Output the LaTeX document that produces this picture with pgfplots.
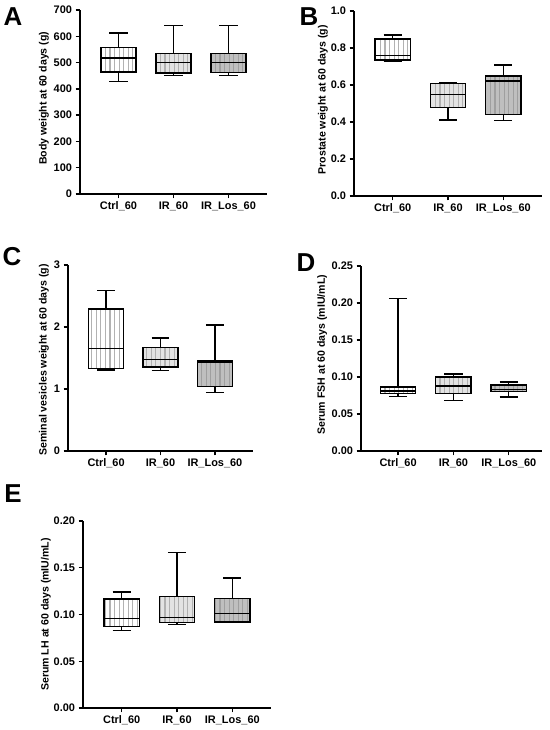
\documentclass[border=0pt]{standalone}
\usepackage{fontspec}
\setmainfont{Liberation Sans}
\usepackage{pgfplots}
\pgfplotsset{compat=1.18}
\usetikzlibrary{patterns}

% vertical hatching, 4.6pt apart
\pgfdeclarepatternformonly{gplines}{\pgfqpoint{-1pt}{-1pt}}{\pgfqpoint{1pt}{5.6pt}}{\pgfqpoint{4.6pt}{4.6pt}}{%
  \pgfsetlinewidth{1.15pt}
  \pgfpathmoveto{\pgfqpoint{0pt}{0pt}}
  \pgfpathlineto{\pgfqpoint{0pt}{4.7pt}}
  \pgfusepath{stroke}}

\pgfplotsset{
  gp/.style={
    scale only axis, anchor=south west,
    xmin=0.3, xmax=3.7, xtick={1,2,3},
    xticklabels={Ctrl\_60, IR\_60, IR\_Los\_60},
    axis x line*=bottom, axis y line*=left,
    axis line style={line width=1.4pt},
    tick align=outside, major tick length=4.5pt,
    tick style={black, line width=1.4pt},
    /pgf/number format/assume math mode=true,
    tick label style={font=\fontsize{11}{12}\selectfont\bfseries},
    label style={font=\fontsize{10.6}{12}\selectfont\bfseries},
    unbounded coords=jump,
  },
  % box outline with fill and hatching
  bx/.style 2 args={draw=black, line width=1.4pt, fill=#1,
    postaction={pattern=gplines, pattern color=#2}, mark=none},
  ctrl/.style={bx={white}{gray!60}},
  ir/.style={bx={gray!22}{gray!62}},
  los/.style={bx={gray!50}{gray!75}},
  % whiskers, caps and median line
  wh/.style={black, line width=1.4pt, mark=none},
}

\begin{document}
\begin{tikzpicture}
\path (0,0) rectangle (550bp,730bp);

% --- A: body weight ---
\begin{axis}[gp, at={(80bp,536bp)}, width=187bp, height=184bp,
  ymin=0, ymax=700, ytick={0,100,200,300,400,500,600,700},
  ylabel={Body weight at 60 days (g)},
  ylabel style={at={(axis description cs:-0.193,0.52)}, anchor=center}]
\addplot[ctrl] coordinates {(0.68,464) (1.32,464) (1.32,557) (0.68,557)} -- cycle;
\addplot[ir] coordinates {(1.68,461) (2.32,461) (2.32,534) (1.68,534)} -- cycle;
\addplot[los] coordinates {(2.68,462) (3.32,462) (3.32,535) (2.68,535)} -- cycle;
\addplot[wh] coordinates {(1,557) (1,613) (1,nan) (0.835,613) (1.165,613) (1,nan) (1,464) (1,428) (1,nan) (0.835,428) (1.165,428) (1,nan) (0.68,517) (1.32,517)};
\addplot[wh] coordinates {(2,534) (2,641) (2,nan) (1.835,641) (2.165,641) (2,nan) (2,461) (2,450) (2,nan) (1.835,450) (2.165,450) (2,nan) (1.68,500) (2.32,500)};
\addplot[wh] coordinates {(3,535) (3,641) (3,nan) (2.835,641) (3.165,641) (3,nan) (3,462) (3,451) (3,nan) (2.835,451) (3.165,451) (3,nan) (2.68,500) (3.32,500)};
\end{axis}

% --- B: prostate weight ---
\begin{axis}[gp, at={(354bp,534bp)}, width=188bp, height=185bp,
  ymin=0, ymax=1, ytick={0,0.2,0.4,0.6,0.8,1.0},
  yticklabel style={/pgf/number format/.cd, fixed, fixed zerofill, precision=1},
  ylabel={Prostate weight at 60 days (g)},
  ylabel style={at={(axis description cs:-0.165,0.52)}, anchor=center}]
\addplot[ctrl] coordinates {(0.68,0.735) (1.32,0.735) (1.32,0.849) (0.68,0.849)} -- cycle;
\addplot[ir] coordinates {(1.68,0.477) (2.32,0.477) (2.32,0.609) (1.68,0.609)} -- cycle;
\addplot[los] coordinates {(2.68,0.442) (3.32,0.442) (3.32,0.649) (2.68,0.649)} -- cycle;
\addplot[wh] coordinates {(1,0.849) (1,0.87) (1,nan) (0.835,0.87) (1.165,0.87) (1,nan) (1,0.735) (1,0.726) (1,nan) (0.835,0.726) (1.165,0.726) (1,nan) (0.68,0.76) (1.32,0.76)};
\addplot[wh] coordinates {(2,0.609) (2,0.615) (2,nan) (1.835,0.615) (2.165,0.615) (2,nan) (2,0.477) (2,0.411) (2,nan) (1.835,0.411) (2.165,0.411) (2,nan) (1.68,0.55) (2.32,0.55)};
\addplot[wh] coordinates {(3,0.649) (3,0.708) (3,nan) (2.835,0.708) (3.165,0.708) (3,nan) (3,0.442) (3,0.407) (3,nan) (2.835,0.407) (3.165,0.407) (3,nan) (2.68,0.622) (3.32,0.622)};
\end{axis}

% --- C: seminal vesicles ---
\begin{axis}[gp, at={(68bp,279bp)}, width=185bp, height=186bp,
  ymin=0, ymax=3, ytick={0,1,2,3},
  ylabel={Seminal vesicles weight at 60 days (g)},
  ylabel style={at={(axis description cs:-0.13,0.49)}, anchor=center}]
\addplot[ctrl] coordinates {(0.68,1.334) (1.32,1.334) (1.32,2.29) (0.68,2.29)} -- cycle;
\addplot[ir] coordinates {(1.68,1.355) (2.32,1.355) (2.32,1.67) (1.68,1.67)} -- cycle;
\addplot[los] coordinates {(2.68,1.04) (3.32,1.04) (3.32,1.45) (2.68,1.45)} -- cycle;
\addplot[wh] coordinates {(1,2.29) (1,2.585) (1,nan) (0.835,2.585) (1.165,2.585) (1,nan) (1,1.334) (1,1.306) (1,nan) (0.835,1.306) (1.165,1.306) (1,nan) (0.68,1.65) (1.32,1.65)};
\addplot[wh] coordinates {(2,1.67) (2,1.82) (2,nan) (1.835,1.82) (2.165,1.82) (2,nan) (2,1.355) (2,1.295) (2,nan) (1.835,1.295) (2.165,1.295) (2,nan) (1.68,1.48) (2.32,1.48)};
\addplot[wh] coordinates {(3,1.45) (3,2.03) (3,nan) (2.835,2.03) (3.165,2.03) (3,nan) (3,1.04) (3,0.94) (3,nan) (2.835,0.94) (3.165,0.94) (3,nan) (2.68,1.43) (3.32,1.43)};
\end{axis}

% --- D: serum FSH ---
\begin{axis}[gp, at={(361bp,279bp)}, width=181bp, height=185bp,
  xmin=0.33, xmax=3.6,
  ymin=0, ymax=0.25, ytick={0,0.05,0.1,0.15,0.2,0.25},
  yticklabel style={/pgf/number format/.cd, fixed, fixed zerofill, precision=2},
  ylabel={Serum FSH at 60 days (mIU/mL)},
  ylabel style={at={(axis description cs:-0.215,0.52)}, anchor=center}]
\addplot[ctrl] coordinates {(0.68,0.078) (1.32,0.078) (1.32,0.0865) (0.68,0.0865)} -- cycle;
\addplot[ir] coordinates {(1.68,0.0775) (2.32,0.0775) (2.32,0.100) (1.68,0.100)} -- cycle;
\addplot[los] coordinates {(2.68,0.080) (3.32,0.080) (3.32,0.089) (2.68,0.089)} -- cycle;
\addplot[wh] coordinates {(1,0.0865) (1,0.206) (1,nan) (0.835,0.206) (1.165,0.206) (1,nan) (1,0.078) (1,0.074) (1,nan) (0.835,0.074) (1.165,0.074) (1,nan) (0.68,0.081) (1.32,0.081)};
\addplot[wh] coordinates {(2,0.100) (2,0.104) (2,nan) (1.835,0.104) (2.165,0.104) (2,nan) (2,0.0775) (2,0.0685) (2,nan) (1.835,0.0685) (2.165,0.0685) (2,nan) (1.68,0.088) (2.32,0.088)};
\addplot[wh] coordinates {(3,0.089) (3,0.093) (3,nan) (2.835,0.093) (3.165,0.093) (3,nan) (3,0.080) (3,0.073) (3,nan) (2.835,0.073) (3.165,0.073) (3,nan) (2.68,0.0834) (3.32,0.0834)};
\end{axis}

% --- E: serum LH ---
\begin{axis}[gp, at={(83bp,22bp)}, width=188bp, height=187bp,
  ymin=0, ymax=0.2, ytick={0,0.05,0.1,0.15,0.2},
  yticklabel style={/pgf/number format/.cd, fixed, fixed zerofill, precision=2},
  ylabel={Serum LH at 60 days (mIU/mL)},
  ylabel style={at={(axis description cs:-0.197,0.5)}, anchor=center}]
\addplot[ctrl] coordinates {(0.68,0.087) (1.32,0.087) (1.32,0.1165) (0.68,0.1165)} -- cycle;
\addplot[ir] coordinates {(1.68,0.0915) (2.32,0.0915) (2.32,0.119) (1.68,0.119)} -- cycle;
\addplot[los] coordinates {(2.68,0.092) (3.32,0.092) (3.32,0.117) (2.68,0.117)} -- cycle;
\addplot[wh] coordinates {(1,0.1165) (1,0.124) (1,nan) (0.835,0.124) (1.165,0.124) (1,nan) (1,0.087) (1,0.083) (1,nan) (0.835,0.083) (1.165,0.083) (1,nan) (0.68,0.096) (1.32,0.096)};
\addplot[wh] coordinates {(2,0.119) (2,0.166) (2,nan) (1.835,0.166) (2.165,0.166) (2,nan) (2,0.0915) (2,0.089) (2,nan) (1.835,0.089) (2.165,0.089) (2,nan) (1.68,0.097) (2.32,0.097)};
\addplot[wh] coordinates {(3,0.117) (3,0.139) (3,nan) (2.835,0.139) (3.165,0.139) (3,nan) (3,0.092) (3,0.092) (3,nan) (2.835,0.092) (3.165,0.092) (3,nan) (2.68,0.101) (3.32,0.101)};
\end{axis}

\begin{scope}[every node/.style={font=\fontsize{26}{30}\selectfont\bfseries, inner sep=0pt}]
\node at (13bp,713bp) {A};
\node at (309bp,713bp) {B};
\node at (12bp,473bp) {C};
\node at (306bp,467bp) {D};
\node at (13bp,236bp) {E};
\end{scope}
\end{tikzpicture}
\end{document}
